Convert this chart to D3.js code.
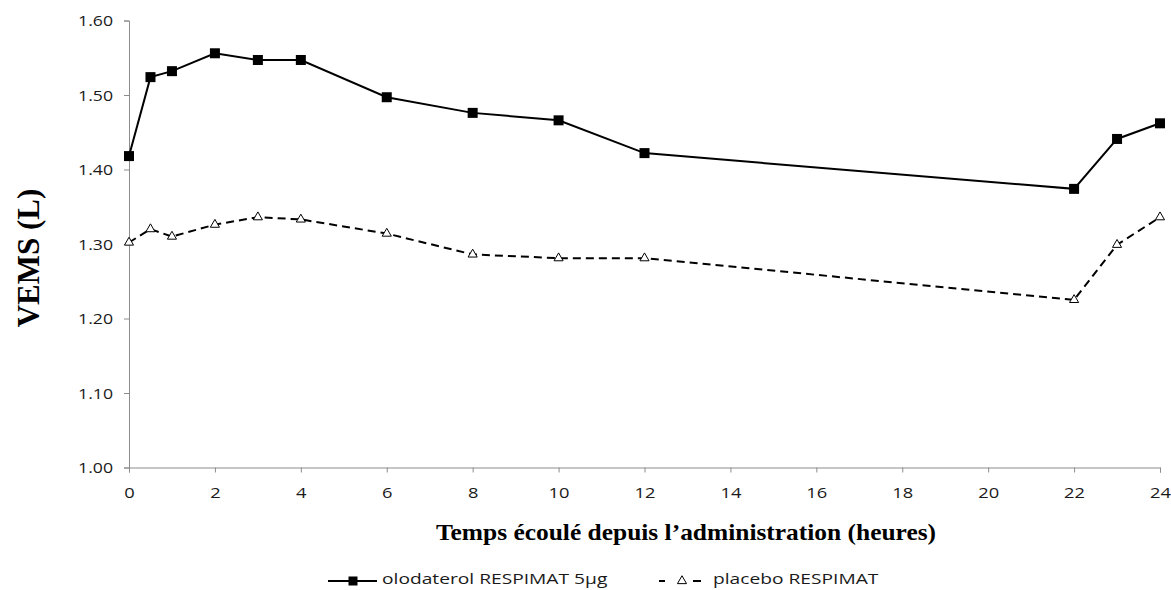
<!DOCTYPE html>
<html><head><meta charset="utf-8">
<script src="https://cdn.jsdelivr.net/npm/d3@7"></script>
<style>
html,body{margin:0;padding:0;background:#fff;}
svg{display:block;}
</style>
</head><body>
<svg id="chart" width="1171" height="590"></svg>
<script>
// ---- data ----
const hours = [0, 0.5, 1, 2, 3, 4, 6, 8, 10, 12, 22, 23, 24];
const olodaterol = [1.418, 1.524, 1.532, 1.556, 1.547, 1.547, 1.497, 1.476, 1.466, 1.422, 1.374, 1.441, 1.462];
const placebo = [1.302, 1.320, 1.310, 1.326, 1.336, 1.333, 1.314, 1.286, 1.281, 1.281, 1.225, 1.299, 1.336];
const xTicks = [0, 2, 4, 6, 8, 10, 12, 14, 16, 18, 20, 22, 24];
const yTicks = [1.00, 1.10, 1.20, 1.30, 1.40, 1.50, 1.60];
const seriesNames = ["olodaterol RESPIMAT 5µg", "placebo RESPIMAT"];
const xTitle = "Temps écoulé depuis l’administration (heures)";
const yTitle = "VEMS (L)";

const svg = d3.select("#chart");
const x = d3.scaleLinear().domain([0, 24]).range([129, 1160]);
const y = d3.scaleLinear().domain([1.0, 1.6]).range([467.5, 20.5]);

const axisColor = "#8c8c8c";
const sansFont = "'Open Sans', sans-serif";
const serifFont = "'Liberation Serif', 'Times New Roman', serif";
const sx = 1.22; // horizontal stretch of the reference text

// y axis
const yAxis = svg.append("g").attr("transform", `translate(${x(0)},0)`)
  .call(d3.axisLeft(y).tickValues(yTicks).tickSize(5).tickPadding(9).tickFormat(d3.format(".2f")));
yAxis.selectAll("path,line").attr("stroke", axisColor);
yAxis.selectAll("text").remove();
yAxis.selectAll(".tick").append("g").attr("transform", `translate(-16,0) scale(${sx},1)`)
  .append("text").text(d => d3.format(".2f")(d))
  .attr("text-anchor", "end").attr("dy", "0.36em")
  .attr("fill", "#1a1a1a").style("font-family", sansFont).style("font-size", "14.5px");

// x axis
const xAxis = svg.append("g").attr("transform", `translate(0,${y(1.0)})`)
  .call(d3.axisBottom(x).tickValues(xTicks).tickSize(5).tickFormat(d3.format("d")));
xAxis.selectAll("path,line").attr("stroke", axisColor);
xAxis.selectAll("text").remove();
xAxis.selectAll(".tick").append("g").attr("transform", `translate(0,30) scale(${sx},1)`)
  .append("text").text(d => d)
  .attr("text-anchor", "middle")
  .attr("fill", "#1a1a1a").style("font-family", sansFont).style("font-size", "15px");

// lines
const line = d3.line().x((d, i) => x(hours[i])).y(d => y(d));
svg.append("path").datum(olodaterol).attr("d", line)
  .attr("fill", "none").attr("stroke", "#000").attr("stroke-width", 2);
svg.append("path").datum(placebo).attr("d", line)
  .attr("fill", "none").attr("stroke", "#000").attr("stroke-width", 2)
  .attr("stroke-dasharray", "8,5");

// markers
const sq = 10;
svg.append("g").selectAll("rect").data(olodaterol).join("rect")
  .attr("x", (d, i) => x(hours[i]) - sq / 2).attr("y", d => y(d) - sq / 2)
  .attr("width", sq).attr("height", sq).attr("fill", "#000");
const tri = d3.symbol().type(d3.symbolTriangle).size(36);
svg.append("g").selectAll("path").data(placebo).join("path")
  .attr("transform", (d, i) => `translate(${x(hours[i])},${y(d)})`)
  .attr("d", tri).attr("fill", "#fff").attr("stroke", "#000").attr("stroke-width", 1);

// axis titles
svg.append("g").attr("transform", `translate(686,540) scale(1.06,1)`)
  .append("text").text(xTitle).attr("text-anchor", "middle")
  .style("font-family", serifFont).style("font-size", "24px").style("font-weight", "bold").attr("fill", "#000");
svg.append("g").attr("transform", `translate(39,258) rotate(-90)`)
  .append("text").text(yTitle).attr("text-anchor", "middle")
  .style("font-family", serifFont).style("font-size", "31px").style("font-weight", "bold").attr("fill", "#000");

// legend
const ly = 581;
const ty = 579;
const leg = svg.append("g");
leg.append("line").attr("x1", 328).attr("x2", 377).attr("y1", ly).attr("y2", ly)
  .attr("stroke", "#000").attr("stroke-width", 2);
leg.append("rect").attr("x", 353 - 4.5).attr("y", ly - 4.5).attr("width", 9).attr("height", 9).attr("fill", "#000");
leg.append("g").attr("transform", `translate(382,${ty}) scale(1.28,1)`)
  .append("text").text(seriesNames[0]).attr("dy", "0.36em")
  .style("font-family", sansFont).style("font-size", "15px").attr("fill", "#1a1a1a");
leg.append("line").attr("x1", 659).attr("x2", 701).attr("y1", ly).attr("y2", ly)
  .attr("stroke", "#000").attr("stroke-width", 2).attr("stroke-dasharray", "6,28,8");
leg.append("path").attr("transform", `translate(682,${ly})`).attr("d", tri)
  .attr("fill", "#fff").attr("stroke", "#000").attr("stroke-width", 1);
leg.append("g").attr("transform", `translate(713,${ty}) scale(1.28,1)`)
  .append("text").text(seriesNames[1]).attr("dy", "0.36em")
  .style("font-family", sansFont).style("font-size", "15px").attr("fill", "#1a1a1a");
</script>
</body></html>
